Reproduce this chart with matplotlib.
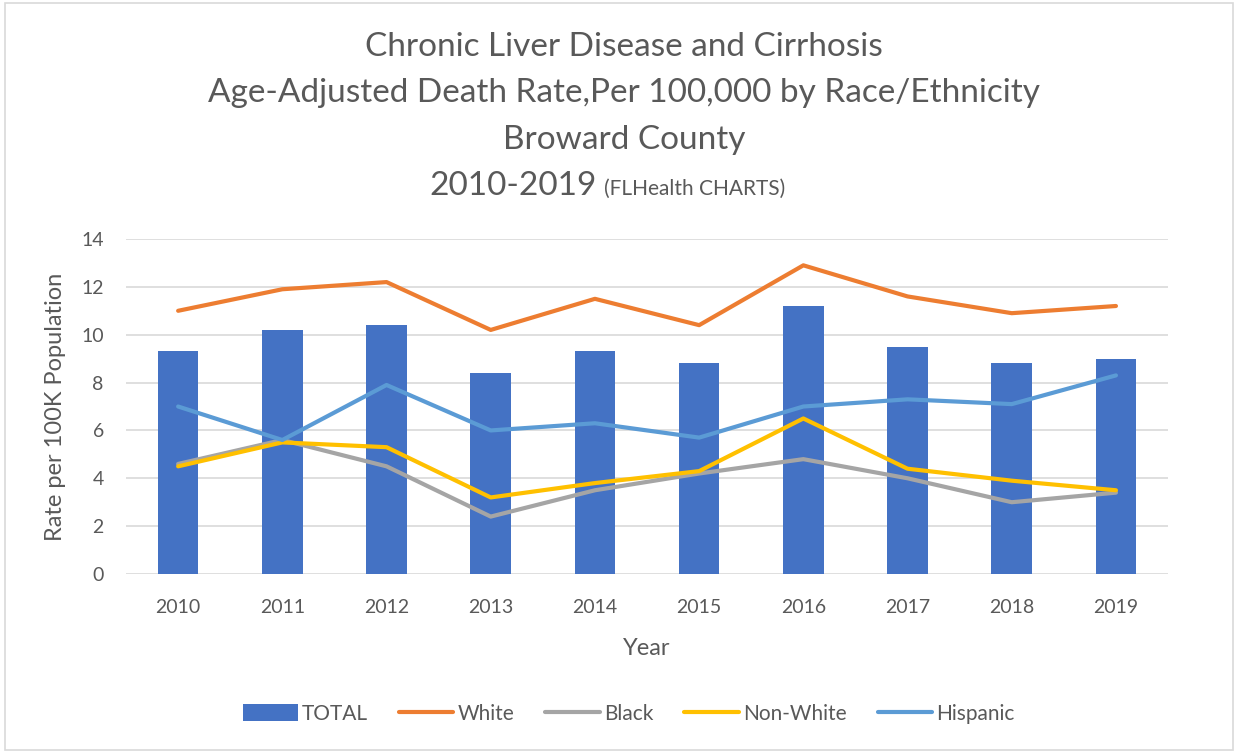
import numpy as np
import matplotlib.pyplot as plt
from matplotlib.patches import Rectangle

years = ['2010', '2011', '2012', '2013', '2014', '2015', '2016', '2017', '2018', '2019']
total = [9.3, 10.2, 10.4, 8.4, 9.3, 8.8, 11.2, 9.5, 8.8, 9.0]
white = [11.0, 11.9, 12.2, 10.2, 11.5, 10.4, 12.9, 11.6, 10.9, 11.2]
black = [4.6, 5.6, 4.5, 2.4, 3.5, 4.2, 4.8, 4.0, 3.0, 3.4]
non_white = [4.5, 5.5, 5.3, 3.2, 3.8, 4.3, 6.5, 4.4, 3.9, 3.5]
hispanic = [7.0, 5.6, 7.9, 6.0, 6.3, 5.7, 7.0, 7.3, 7.1, 8.3]

plt.rcParams['font.family'] = ['Lato', 'DejaVu Sans']
txt = '#595959'

fig = plt.figure(figsize=(12.38, 7.53), dpi=100)
ax = fig.add_axes([0.1018, 0.2377, 0.8417, 0.4449])

x = np.arange(len(years))
handles = []
handles.append(ax.bar(x, total, width=0.39, color='#4472C4', label='TOTAL', zorder=2))
for vals, col, lab in [(white, '#ED7D31', 'White'), (black, '#A5A5A5', 'Black'),
                       (non_white, '#FFC000', 'Non-White'), (hispanic, '#5B9BD5', 'Hispanic')]:
    ln, = ax.plot(x, vals, color=col, lw=3.0, label=lab, solid_capstyle='round',
                  solid_joinstyle='round', zorder=3)
    handles.append(ln)

ax.set_xlim(-0.5, 9.5)
ax.set_ylim(0, 14)
ax.set_yticks(range(0, 15, 2))
ax.set_xticks(x)
ax.set_xticklabels(years)
ax.grid(axis='y', color='#D9D9D9', lw=1.2, zorder=0)
for s in ax.spines.values():
    s.set_visible(False)
ax.tick_params(length=0, labelsize=14, colors=txt, pad=18)
ax.tick_params(axis='y', pad=16)
ax.set_xlabel('Year', fontsize=17, color=txt, labelpad=16)
ax.set_ylabel('Rate per 100K Population', fontsize=17, color=txt, labelpad=11)

title = ['Chronic Liver Disease and Cirrhosis',
         'Age-Adjusted Death Rate,Per 100,000 by Race/Ethnicity',
         'Broward County']
for i, t in enumerate(title):
    fig.text(0.504, 1 - (47 + 46.5 * i) / 753, t, ha='center', va='center',
             fontsize=24, color=txt)
fig.text(0.482, 1 - 186 / 753, '2010-2019', ha='right', va='center', fontsize=24, color=txt)
fig.text(0.488, 1 - 189 / 753, '(FLHealth CHARTS)', ha='left', va='center', fontsize=15, color=txt)

fig.legend(handles=handles, loc='center', bbox_to_anchor=(0.508, 1 - 714 / 753), ncol=5,
           frameon=False, fontsize=15, labelcolor=txt, handlelength=2.6, handleheight=0.9,
           handletextpad=0.2, columnspacing=1.5)

fig.patches.append(Rectangle((0.004, 0.004), 0.992, 0.992, transform=fig.transFigure,
                             fill=False, edgecolor='#D9D9D9', lw=1.2))

fig.savefig('out.png', dpi=100)
